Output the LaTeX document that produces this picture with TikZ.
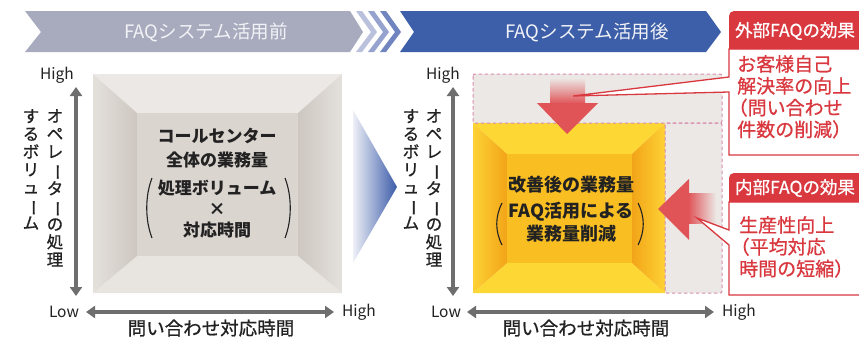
\documentclass[tikz,border=0pt]{standalone}
\usepackage{fontspec}
\setmainfont{Noto Sans CJK JP}
\newfontfamily\medfont{Noto Sans CJK JP}[RawFeature={embolden=0.8}]
\usetikzlibrary{arrows.meta}
\definecolor{bannergray}{HTML}{A8ABBD}
\definecolor{bannerblue}{HTML}{3D5FA9}
\definecolor{chevA}{HTML}{BAC1DC}
\definecolor{chevB}{HTML}{96A3CF}
\definecolor{chevC}{HTML}{7084C0}
\definecolor{calred}{HTML}{D9383F}
\definecolor{arrred}{HTML}{E05357}
\definecolor{dashpink}{HTML}{D98CB0}
\definecolor{bandgray}{HTML}{EBE8E5}
\definecolor{sqtop}{HTML}{EBE8E5}
\definecolor{sqface}{HTML}{DBD5D0}
\definecolor{sqout}{HTML}{E4E0DC}
\definecolor{sqin}{HTML}{CEC7C1}
\definecolor{sqbot}{HTML}{E8E4E0}
\definecolor{ytop}{HTML}{FDD835}
\definecolor{yface}{HTML}{F9BE22}
\definecolor{yout}{HTML}{FDD235}
\definecolor{yin}{HTML}{F2A418}
\definecolor{axgray}{HTML}{6E6E6E}
\definecolor{txtdark}{HTML}{222222}
\definecolor{triL}{HTML}{EEF0F7}
\definecolor{triR}{HTML}{3B5BA8}
\definecolor{bannertxt}{HTML}{F2F3F7}
\newcommand{\vbar}{\rotatebox[origin=c]{-90}{ー}}
\tikzset{
  axisarr/.style={draw=axgray, line width=3.6pt, arrows={Triangle[width=12pt,length=9pt]-Triangle[width=12pt,length=9pt]}},
  axlabel/.style={font=\fontsize{15.5}{17}\selectfont, text=txtdark, inner sep=0pt},
  vlabel/.style={font=\medfont\fontsize{16.5}{17.8}\selectfont, text=txtdark, align=center, inner sep=0pt, anchor=north},
  boxtext/.style={font=\bfseries\fontsize{17}{20}\selectfont, text=txtdark, inner sep=0pt},
  bannertext/.style={font=\fontsize{18.5}{21}\selectfont, text=bannertxt, inner sep=0pt},
  headtext/.style={font=\medfont\fontsize{17.5}{20}\selectfont, text=white, inner sep=0pt},
  calltext/.style={font=\medfont\fontsize{19}{21.8}\selectfont, text=calred, align=left, inner sep=0pt, anchor=north west},
  xlab/.style={font=\medfont\fontsize{18.5}{21}\selectfont, text=txtdark, inner sep=0pt},
  paren/.style={draw=txtdark, line width=1.1pt},
  dashbox/.style={draw=dashpink, line width=1pt, dash pattern=on 3.5pt off 2.5pt, rounded corners=2pt},
  callbox/.style={draw=calred, line width=1.3pt, fill=white},
}
\begin{document}
\begin{tikzpicture}[x=1pt,y=-1pt]
\clip (0,0) rectangle (859,340);
\fill[white] (0,0) rectangle (859,340);

% ---------- banners ----------
\fill[bannergray] (25,11) -- (350,11) -- (363,32) -- (350,52) -- (25,52) -- (41,32) -- cycle;
\node[bannertext] (bannerL) at (206,32) {FAQシステム活用前};
\fill[chevA] (356,11) -- (362,11) -- (377,32) -- (362,52) -- (356,52) -- (371,32) -- cycle;
\fill[chevB] (368,11) -- (374,11) -- (389,32) -- (374,52) -- (368,52) -- (383,32) -- cycle;
\fill[chevC] (380,11) -- (386,11) -- (401,32) -- (386,52) -- (380,52) -- (395,32) -- cycle;
\fill[bannerblue] (400,11) -- (706,11) -- (721,32) -- (706,52) -- (400,52) -- (414,32) -- cycle;
\node[bannertext] (bannerR) at (587,32) {FAQシステム活用後};

% ---------- left panel ----------
\fill[sqtop] (93,74) -- (342,74) -- (298,113) -- (137,113) -- cycle;
\fill[sqbot] (93,293) -- (342,293) -- (298,256) -- (137,256) -- cycle;
\shade[left color=sqout, right color=sqin] (93,74) -- (137,113) -- (137,256) -- (93,293) -- cycle;
\shade[left color=sqin, right color=sqout] (342,74) -- (298,113) -- (298,256) -- (342,293) -- cycle;
\fill[sqface] (137,113) rectangle (298,256);
\node[boxtext] (l1) at (217,136) {コールセンター};
\node[boxtext] (l2) at (217,160) {全体の業務量};
\node[boxtext] (l3) at (217,188) {処理ボリューム};
\node[boxtext] (l4) at (217,209) {×};
\node[boxtext] (l5) at (217,230) {対応時間};
\draw[paren] (152,178) .. controls (145,196) and (145,220) .. (152,238);
\draw[paren] (285,178) .. controls (292,196) and (292,220) .. (285,238);

\coordinate (lvTop) at (76,87);
\coordinate (lvBot) at (76,296);
\coordinate (lhL) at (86,312);
\coordinate (lhR) at (334,312);
\draw[axisarr] (lvBot) -- (lvTop);
\draw[axisarr] (lhL) -- (lhR);
\node[axlabel] (lHigh1) at (57,75) {High};
\node[axlabel] (lLow) at (64,312) {Low};
\node[axlabel] (lHigh2) at (359,312) {High};
\node[xlab] (lxlab) at (211,328) {問い合わせ対応時間};
\node[vlabel] (lv1) at (55,109) {オ\\ペ\\レ\\\vbar\\タ\\\vbar\\の\\処\\理};
\node[vlabel] (lv2) at (31,109) {す\\る\\ボ\\リ\\ュ\\\vbar\\ム};

% ---------- transition triangle ----------
\shade[left color=triL, right color=triR] (353,110) -- (397,187) -- (353,263) -- cycle;

% ---------- right panel ----------
\fill[bandgray] (473,74) rectangle (722,123);
\fill[bandgray] (665,123) rectangle (722,293);
\fill[ytop] (473,123) -- (665,123) -- (632,154) -- (507,154) -- cycle;
\fill[ytop] (473,293) -- (665,293) -- (632,263) -- (507,263) -- cycle;
\shade[left color=yout, right color=yin] (473,123) -- (507,154) -- (507,263) -- (473,293) -- cycle;
\shade[left color=yin, right color=yout] (665,123) -- (632,154) -- (632,263) -- (665,293) -- cycle;
\fill[yface] (507,154) rectangle (632,263);
\draw[dashbox] (473,74) rectangle (722,123);
\draw[dashbox] (665,123) rectangle (722,293);
\node[boxtext, font=\bfseries\fontsize{18}{21}\selectfont] (r1) at (571,185) {改善後の業務量};
\node[boxtext, font=\bfseries\fontsize{18}{21}\selectfont] (r2) at (571,212) {FAQ活用による};
\node[boxtext, font=\bfseries\fontsize{18}{21}\selectfont] (r3) at (571,234) {業務量削減};
\draw[paren] (502,203) .. controls (495,217) and (495,231) .. (502,245);
\draw[paren] (638,203) .. controls (645,217) and (645,231) .. (638,245);

\coordinate (rvTop) at (453,87);
\coordinate (rvBot) at (453,296);
\coordinate (rhL) at (467,312);
\coordinate (rhR) at (714,312);
\draw[axisarr] (rvBot) -- (rvTop);
\draw[axisarr] (rhL) -- (rhR);
\node[axlabel] (rHigh1) at (443,75) {High};
\node[axlabel] (rLow) at (446,312) {Low};
\node[axlabel] (rHigh2) at (739,312) {High};
\node[xlab] (rxlab) at (586,328) {問い合わせ対応時間};
\node[vlabel] (rv1) at (434,109) {オ\\ペ\\レ\\\vbar\\タ\\\vbar\\の\\処\\理};
\node[vlabel] (rv2) at (411,109) {す\\る\\ボ\\リ\\ュ\\\vbar\\ム};

% ---------- red arrows ----------
\shade[top color=bandgray, bottom color=arrred] (550,78) rectangle (585,104);
\fill[arrred] (537,103) -- (598,103) -- (567,134) -- cycle;
\shade[left color=arrred, right color=bandgray] (688,193) rectangle (716,223);
\fill[arrred] (689,179) -- (689,240) -- (658,209) -- cycle;

% ---------- callouts ----------
\draw[callbox] (870,49) -- (729,49) -- (729,77) -- (573,96) -- (729,92) -- (729,155) -- (870,155);
\fill[calred] (729,49) [rounded corners=5pt] -- (729,11) -- (870,11) [sharp corners] -- (870,49) -- cycle;
\node[headtext] (h1) at (795,31) {外部FAQの効果};
\node[calltext] (c1) at (737,55) {お客様自己\\解決率の向上\\\hspace*{-0.45em}（問い合わせ\\件数の削減）};

\draw[callbox] (870,202) -- (729,202) -- (729,230) -- (697,218) -- (729,245) -- (729,295) -- (870,295);
\fill[calred] (729,202) [rounded corners=5pt] -- (729,173) -- (870,173) [sharp corners] -- (870,202) -- cycle;
\node[headtext] (h2) at (795,188) {内部FAQの効果};
\node[calltext] (c2) at (739,216) {生産性向上\\\hspace*{-0.45em}（平均対応\\時間の短縮）};
\end{tikzpicture}
\end{document}
